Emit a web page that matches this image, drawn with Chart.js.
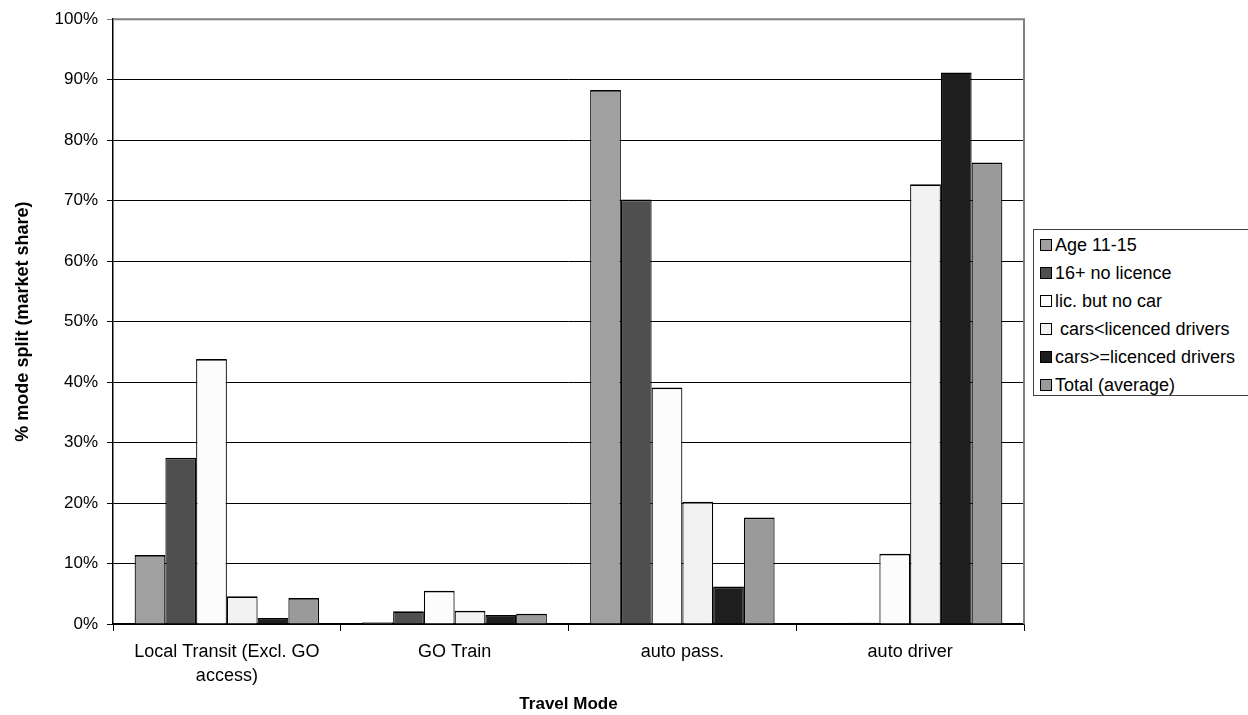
<!DOCTYPE html>
<html>
<head>
<meta charset="utf-8">
<script src="https://cdn.jsdelivr.net/npm/chart.js@4.4.1/dist/chart.umd.min.js"></script>
<style>
  html, body { margin: 0; padding: 0; background: #fff; overflow: hidden; }
  #wrap { position: relative; width: 1248px; height: 715px; }
  #legend {
    position: absolute; left: 1033px; top: 229px; width: 230px; height: 167px;
    border: 1px solid #404040; box-sizing: border-box; background: #fff;
    font-family: "Liberation Sans", Arial, sans-serif; font-size: 18px; color: #000;
    padding-top: 1px;
  }
  .row { display: flex; align-items: center; height: 28px; white-space: pre; }
  .sw { width: 10px; height: 10px; border: 1px solid #000; margin-left: 6px; margin-right: 3px; flex: none; }
</style>
</head>
<body>
<div id="wrap">
  <canvas id="c" width="1248" height="715"></canvas>
  <div id="legend"></div>
</div>
<script>
const categories = [["Local Transit (Excl. GO", "access)"], "GO Train", "auto pass.", "auto driver"];
const seriesNames = ["Age 11-15", "16+ no licence", "lic. but no car", " cars<licenced drivers", "cars>=licenced drivers", "Total (average)"];
const age1115 = [11.4, 0.3, 88.3, 0.0];
const noLicence = [27.5, 2.1, 70.2, 0.2];
const licNoCar = [43.8, 5.5, 39.1, 11.6];
const carsLessDrivers = [4.6, 2.2, 20.2, 72.7];
const carsGeDrivers = [1.0, 1.5, 6.2, 91.2];
const totalAvg = [4.3, 1.7, 17.6, 76.3];
const yTicks = [0, 10, 20, 30, 40, 50, 60, 70, 80, 90, 100];

const seriesValues = [age1115, noLicence, licNoCar, carsLessDrivers, carsGeDrivers, totalAvg];
const colors = ["#a0a0a0", "#4f4f4f", "#fcfcfc", "#f2f2f2", "#1e1e1e", "#9a9a9a"];

const FONT = '"Liberation Sans", Arial, sans-serif';

const borderPlugin = {
  id: 'plotBorder',
  beforeDatasetsDraw(chart) {
    const {ctx, chartArea: a} = chart;
    ctx.save();
    ctx.strokeStyle = '#808080';
    ctx.lineWidth = 2;
    ctx.beginPath();
    ctx.moveTo(a.left, a.top);
    ctx.lineTo(a.right, a.top);
    ctx.lineTo(a.right, a.bottom);
    ctx.stroke();
    ctx.restore();
  }
};

const chart = new Chart(document.getElementById('c'), {
  type: 'bar',
  data: {
    labels: categories,
    datasets: seriesNames.map((n, i) => ({
      label: n,
      data: seriesValues[i],
      backgroundColor: colors[i],
      borderColor: '#000',
      borderWidth: { top: 1.7, left: 1.2, right: 1.2, bottom: 0 },
      borderSkipped: false,
      inflateAmount: 0,
      categoryPercentage: 0.81,
      barPercentage: 1.0
    }))
  },
  options: {
    responsive: false,
    animation: false,
    devicePixelRatio: 1,
    layout: { padding: { left: 0, right: 224, top: 19, bottom: 0 } },
    plugins: { legend: { display: false }, tooltip: { enabled: false } },
    scales: {
      x: {
        grid: { display: true, drawOnChartArea: false, drawTicks: true, tickLength: 7, color: '#000', offset: true },
        border: { display: true, color: '#000', width: 1.5 },
        ticks: { color: '#000', font: { family: FONT, size: 18, lineHeight: 1.28 }, padding: 10, maxRotation: 0, autoSkip: false },
        title: { display: true, text: 'Travel Mode', color: '#000', font: { family: FONT, size: 17, weight: 'bold' }, padding: { top: 0, bottom: 0 } },
        afterFit(scale) { scale.height = 91; }
      },
      y: {
        min: 0, max: 100,
        afterBuildTicks(scale) { scale.ticks = yTicks.map(v => ({ value: v })); },
        grid: {
          color: ctx => (ctx.tick && ctx.tick.value === 100) ? '#808080' : '#000',
          lineWidth: 1, tickLength: 6, drawTicks: true
        },
        border: { display: true, color: '#000', width: 1.5 },
        ticks: { color: '#000', font: { family: FONT, size: 17 }, padding: 9, callback: v => v + '%' },
        title: { display: true, text: '% mode split (market share)', color: '#000', font: { family: FONT, size: 18, weight: 'bold' }, padding: { top: 12, bottom: 0 } },
        afterFit(scale) { scale.width = 113; }
      }
    }
  },
  plugins: [borderPlugin]
});

const legendEl = document.getElementById('legend');
chart.data.datasets.forEach(ds => {
  const row = document.createElement('div');
  row.className = 'row';
  const sw = document.createElement('span');
  sw.className = 'sw';
  sw.style.background = ds.backgroundColor;
  const tx = document.createElement('span');
  tx.textContent = ds.label;
  row.appendChild(sw);
  row.appendChild(tx);
  legendEl.appendChild(row);
});
</script>
</body>
</html>
